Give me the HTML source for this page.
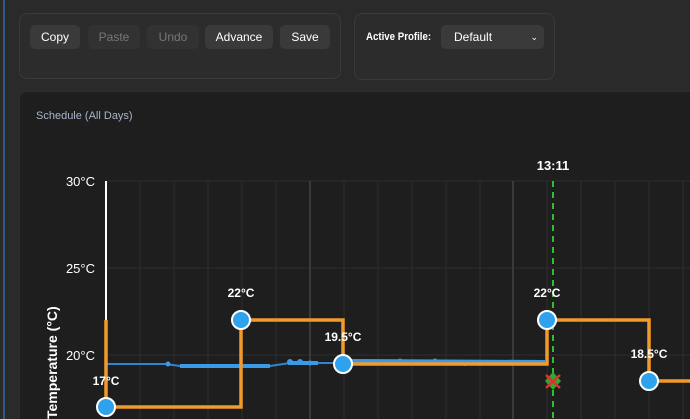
<!DOCTYPE html>
<html><head><style>
html,body{margin:0;width:690px;height:419px;overflow:hidden}
body{background:#2a2a2a;font-family:"Liberation Sans",sans-serif;position:relative}
.edge{position:absolute;left:3px;top:0;width:2px;height:419px;background:#2d5b86}
.card{position:absolute;border:1px solid #3a3a3a;border-radius:8px;background:#2c2c2c}
.btn{position:absolute;top:25px;height:24px;border-radius:5px;background:#3a3a3a;color:#fff;font-size:12px;line-height:24px;text-align:center}
.dis{background:#323232;color:#777}
</style></head><body>
<div class="edge"></div>
<div class="card" style="left:19px;top:13px;width:320px;height:64px"></div>
<div class="btn" style="left:30px;width:50px">Copy</div>
<div class="btn dis" style="left:88px;width:52px">Paste</div>
<div class="btn dis" style="left:147px;width:52px">Undo</div>
<div class="btn" style="left:205px;width:68px">Advance</div>
<div class="btn" style="left:280px;width:50px">Save</div>
<div class="card" style="left:354px;top:13px;width:199px;height:65px"></div>
<div style="position:absolute;left:366px;top:25px;line-height:24px;font-size:11px;color:#fff;font-weight:bold;transform:scaleX(0.88);transform-origin:left center;white-space:nowrap">Active Profile:</div>
<div class="btn" style="left:441px;width:103px;text-align:left;padding-left:13px;box-sizing:border-box">Default<span style="position:absolute;right:6px;font-size:9px">&#8964;</span></div>
<div style="position:absolute;left:19px;top:91px;width:700px;height:340px;background:#1e1e1e;border-radius:8px;border:1px solid #2e2e2e"></div>
<div style="position:absolute;left:36px;top:110px;font-size:11px;color:#aab4c8">Schedule (All Days)</div>
<svg style="position:absolute;left:0;top:0" width="690" height="419">
<g stroke="#2e2e2e" stroke-width="1">
<line x1="106" y1="268" x2="690" y2="268"/><line x1="106" y1="355" x2="690" y2="355"/><line x1="106" y1="181" x2="690" y2="181"/>
<line x1="140" y1="181" x2="140" y2="419"/><line x1="174" y1="181" x2="174" y2="419"/><line x1="208" y1="181" x2="208" y2="419"/><line x1="242" y1="181" x2="242" y2="419"/><line x1="276" y1="181" x2="276" y2="419"/>
<line x1="344" y1="181" x2="344" y2="419"/><line x1="378" y1="181" x2="378" y2="419"/><line x1="412" y1="181" x2="412" y2="419"/><line x1="446" y1="181" x2="446" y2="419"/><line x1="480" y1="181" x2="480" y2="419"/>
<line x1="547" y1="181" x2="547" y2="419"/><line x1="581" y1="181" x2="581" y2="419"/><line x1="615" y1="181" x2="615" y2="419"/><line x1="649" y1="181" x2="649" y2="419"/><line x1="683" y1="181" x2="683" y2="419"/>
</g>
<line x1="310" y1="181" x2="310" y2="419" stroke="#3a3a3a" stroke-width="2"/>
<line x1="513" y1="181" x2="513" y2="419" stroke="#3a3a3a" stroke-width="2"/>
<line x1="106" y1="181" x2="106" y2="330" stroke="#fff" stroke-width="2"/>
<g font-size="13" fill="#fff" text-anchor="end"><text x="95" y="186">30°C</text><text x="95" y="273">25°C</text><text x="95" y="360">20°C</text></g>
<text transform="translate(57,419) rotate(-90)" font-size="14" font-weight="bold" fill="#fff">Temperature (°C)</text>
<path d="M106 364 L165 364 L180 366 L270 366 L290 363 L343 363 L545 364" stroke="#2f86d0" stroke-width="2" fill="none"/>
<path d="M180 366 L270 366 M288 363 L318 363 M350 361 L545 362" stroke="#3a9ae8" stroke-width="4" fill="none"/>
<g fill="#3a9ae8"><circle cx="168" cy="364" r="2.5"/><circle cx="290" cy="362" r="3"/><circle cx="300" cy="362" r="3"/><circle cx="310" cy="363" r="2.5"/><circle cx="400" cy="361" r="2.5"/><circle cx="435" cy="361" r="2.5"/><circle cx="465" cy="364" r="2"/></g>
<line x1="553" y1="181" x2="553" y2="419" stroke="#2ec02e" stroke-width="2" stroke-dasharray="6 5"/>
<path d="M106 320 L106 407 L241 407 L241 320 L343 320 L343 364 L547 364 L547 320 L649 320 L649 381 L690 381" stroke="#f39a2a" stroke-width="3.5" fill="none"/>
<g fill="#2ea2ec" stroke="#fff" stroke-width="2">
<circle cx="106" cy="407" r="9"/><circle cx="241" cy="320" r="9"/><circle cx="343" cy="364" r="9"/><circle cx="547" cy="320" r="9"/><circle cx="649" cy="381" r="9"/>
</g>
<path d="M553 372 L561 381 L553 390 L545 381Z" fill="#2ea82e"/>
<path d="M546 375 L560 388 M560 375 L546 388" stroke="#e03030" stroke-width="2.5"/>
<g font-size="12" font-weight="bold" fill="#fff" text-anchor="middle">
<text x="106" y="385">17°C</text><text x="241" y="297">22°C</text><text x="343" y="341">19.5°C</text><text x="547" y="297">22°C</text><text x="649" y="358">18.5°C</text>
<text x="553" y="170" font-size="13">13:11</text></g>
</svg>
</body></html>
